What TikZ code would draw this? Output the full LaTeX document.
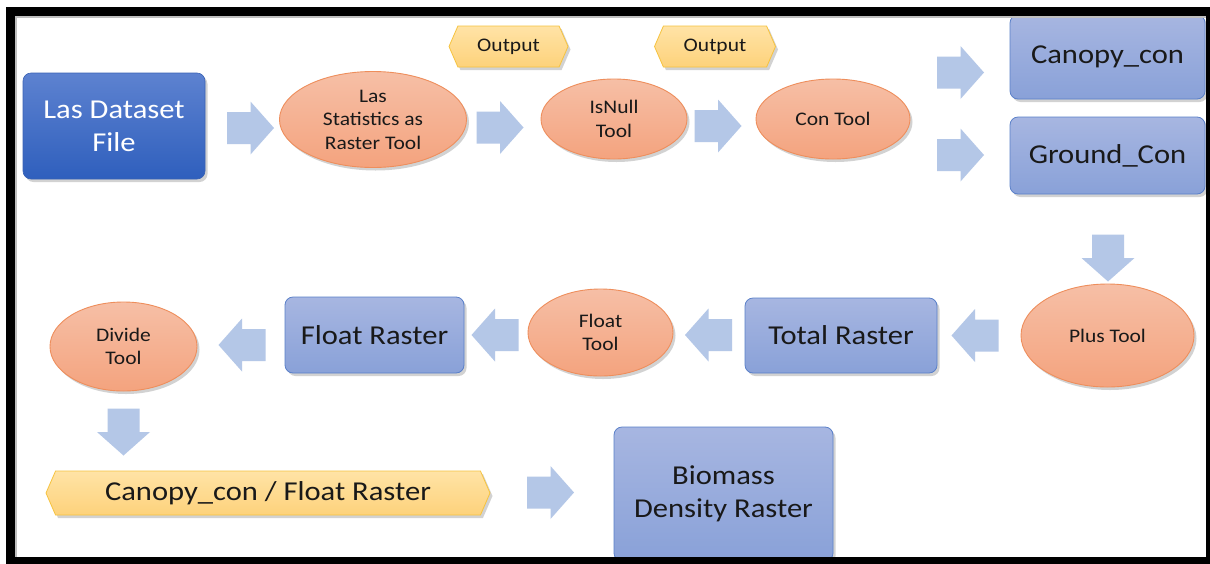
\documentclass[tikz,border=0pt]{standalone}
\usepackage{fontspec}
\setmainfont{Carlito}[FakeStretch=1.12]
\usetikzlibrary{shapes.geometric,shapes.symbols,shadows}
\definecolor{arrowblue}{HTML}{B4C7E7}
\definecolor{dkTop}{HTML}{5D82D0}
\definecolor{dkBot}{HTML}{2F5FBD}
\definecolor{dkBorder}{HTML}{3A62B4}
\definecolor{lbTop}{HTML}{A7B6E1}
\definecolor{lbBot}{HTML}{89A1D8}
\definecolor{lbBorder}{HTML}{5A80C9}
\definecolor{elTop}{HTML}{F6BFA6}
\definecolor{elBot}{HTML}{F4A37E}
\definecolor{elBorder}{HTML}{EE8E5C}
\definecolor{hxTop}{HTML}{FFE3A6}
\definecolor{hxBot}{HTML}{FDD27B}
\definecolor{hxBorder}{HTML}{F6C33F}
\begin{document}
\begin{tikzpicture}[x=1pt,y=-1pt,
  bigfont/.style={font=\fontsize{27.3}{33.3}\selectfont},
  smallfont/.style={font=\fontsize{19.2}{23.5}\selectfont},
  boxshadow/.style={drop shadow={opacity=0.35,shadow xshift=2.5pt,shadow yshift=-3pt}},
  darkbox/.style={rectangle, rounded corners=8pt, top color=dkTop, bottom color=dkBot,
    draw=dkBorder, line width=0.6pt, text=white, bigfont, boxshadow, inner sep=0pt, align=center},
  lightbox/.style={rectangle, rounded corners=8pt, top color=lbTop, bottom color=lbBot,
    draw=lbBorder, line width=0.8pt, text=black!90, bigfont, boxshadow, inner sep=0pt, align=center},
  tool/.style={ellipse, top color=elTop, bottom color=elBot, draw=elBorder, line width=0.9pt,
    text=black!90, smallfont, boxshadow, inner sep=0pt, align=center},
  outhex/.style={signal, signal to=east and west, signal pointer angle=133,
    top color=hxTop, bottom color=hxBot, draw=hxBorder, line width=0.8pt,
    text=black!90, inner sep=0pt, boxshadow},
  blockarrow/.pic={\fill[arrowblue] (-23.5,-16) -- (0,-16) -- (0,-26.5) -- (23.5,0)
    -- (0,26.5) -- (0,16) -- (-23.5,16) -- cycle;}
]
\useasboundingbox (0,0) rectangle (1210,563);
\fill[white] (0,0) rectangle (1210,563);

% first row
\node[darkbox, minimum width=182pt, minimum height=106pt] (las) at (114,126) {Las Dataset\\File};
\pic (a1) at (250.5,128) {blockarrow};
\node[tool, minimum width=187pt, minimum height=96pt] (stat) at (373,119.5) {Las\\Statistics as\\Raster Tool};
\pic (a2) at (500,127.5) {blockarrow};
\node[tool, minimum width=146pt, minimum height=80pt] (isnull) at (614,119) {IsNull\\Tool};
\pic (a3) at (718,126) {blockarrow};
\node[tool, minimum width=154pt, minimum height=80pt] (con) at (833,119) {Con Tool};
\node[outhex, smallfont, minimum width=119pt, minimum height=41pt] (out1) at (508.5,46.5) {Output};
\node[outhex, smallfont, minimum width=121pt, minimum height=41pt] (out2) at (715,46.5) {Output};
\pic (a4) at (960.5,72.5) {blockarrow};
\pic (a5) at (960.5,155) {blockarrow};
\node[lightbox, minimum width=195pt, minimum height=84pt] (canopy) at (1107.5,57) {Canopy\_con};
\node[lightbox, minimum width=195pt, minimum height=77pt] (ground) at (1107.5,155.5) {Ground\_Con};

% second row
\pic[rotate=-90] (a6) at (1108,258) {blockarrow};
\node[tool, minimum width=173pt, minimum height=103pt] (plus) at (1107.5,335.5) {Plus Tool};
\pic[rotate=180] (a7) at (975,335.5) {blockarrow};
\node[lightbox, minimum width=192pt, minimum height=75pt] (total) at (841,335.5) {Total Raster};
\pic[rotate=180] (a8) at (708.5,335) {blockarrow};
\node[tool, minimum width=145pt, minimum height=87pt] (ftool) at (600.5,332.5) {Float\\Tool};
\pic[rotate=180] (a9) at (495,335) {blockarrow};
\node[lightbox, minimum width=179pt, minimum height=76pt] (fraster) at (374.5,335) {Float Raster};
\pic[rotate=180] (a10) at (242,345) {blockarrow};
\node[tool, minimum width=147pt, minimum height=89pt] (divide) at (123.5,346.5) {Divide\\Tool};

% third row
\pic[rotate=-90] (a11) at (123.5,432) {blockarrow};
\node[outhex, bigfont, minimum width=444pt, minimum height=44pt] (ratio) at (268,493) {Canopy\_con / Float Raster};
\pic (a12) at (550.5,492.5) {blockarrow};
\node[lightbox, minimum width=219pt, minimum height=134pt] (bio) at (723.5,494) {Biomass\\Density Raster};

% frame
\draw[black!25, line width=2pt] (16,560) -- (16,17) -- (1206,17);
\draw[black, line width=9pt] (10,11) rectangle (1210.5,561);
\end{tikzpicture}
\end{document}
